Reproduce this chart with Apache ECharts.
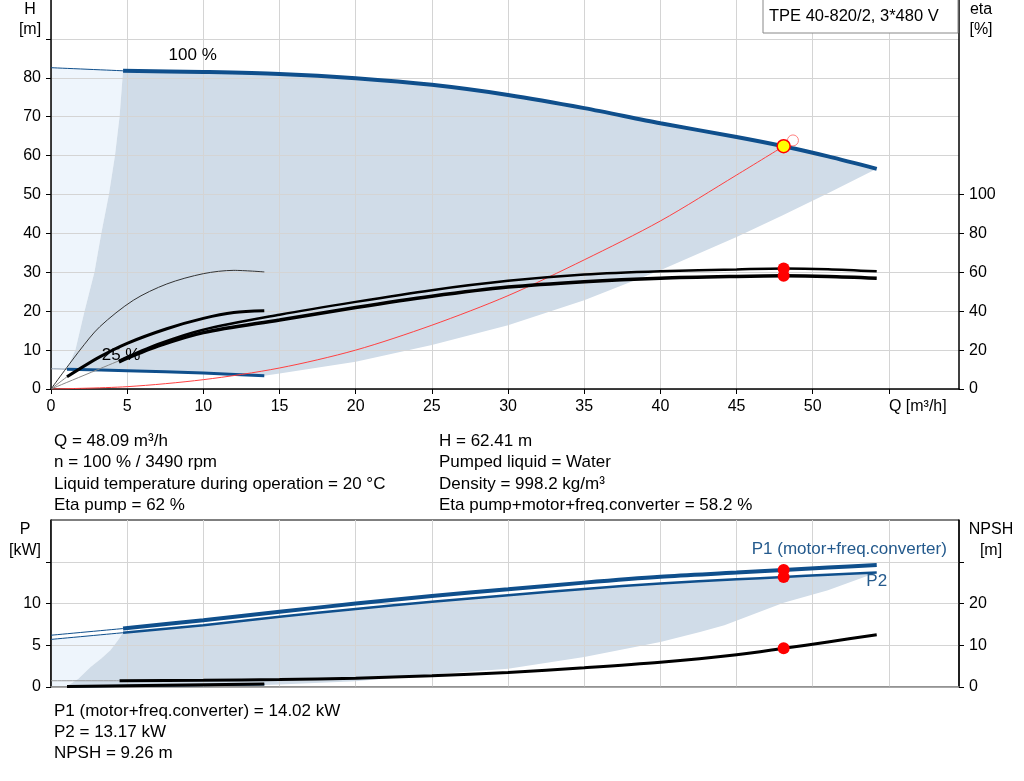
<!DOCTYPE html>
<html>
<head>
<meta charset="utf-8">
<title>TPE 40-820/2 pump curves</title>
<script src="https://cdn.jsdelivr.net/npm/echarts@6.0.0/dist/echarts.min.js"></script>
<style>
html, body { margin: 0; padding: 0; background: #fff; }
#chart { width: 1024px; height: 781px; }
</style>
</head>
<body>
<div id="chart"></div>
<script>
// ---- Q-H (top chart) ----
var qLeadMax = [0, 4.73];
var hLeadMax = [82.6, 81.8];
var qMax = [4.73, 10, 15, 20, 25, 30, 35, 40, 45, 48.09, 51, 54.2];
var hMax = [81.8, 81.5, 81.0, 79.9, 78.2, 75.6, 72.2, 68.3, 64.8, 62.41, 59.8, 56.6];
var qLeadMin = [0, 1.05];
var hLeadMin = [5.2, 5.1];
var qMinSpeed = [1.05, 5, 10, 14];
var hMinSpeed = [5.1, 4.7, 4.1, 3.4];
// edges of the operating area
var qLeftEdge = [4.73, 4.5, 4.2, 3.8, 3.3, 2.85, 2.2, 1.6, 1.05];
var hLeftEdge = [81.8, 70, 60, 50, 40, 30, 20, 10, 5.1];
var qLowEdge = [54.2, 51, 48, 45, 40, 35, 30, 25, 20, 15, 14];
var hLowEdge = [56.6, 50.3, 44.6, 39.1, 30.5, 22.8, 16.4, 11.3, 7.0, 4.0, 3.4];
// system curve (red)
var qSysLine = [0, 5, 10, 15, 20, 25, 30, 35, 40, 45, 48.09];
var hSysLine = [0, 0.6, 2.4, 5.4, 10.0, 16.4, 24.0, 33.2, 43.2, 55.0, 62.41];

// ---- efficiency ----
var qEta = [4.46, 7, 10, 15, 20, 25, 30, 35, 40, 45, 48.09, 51, 54.2];
var etaPump = [14.5, 23, 30.5, 38.2, 44.8, 50.8, 55.6, 58.9, 60.6, 61.5, 62.0, 61.6, 60.5];
var etaTotal = [14, 22, 29, 35.5, 41.9, 47.7, 52.4, 55.2, 57.0, 57.9, 58.2, 57.9, 57.0];
var qEtaPumpMin = [0, 1.9, 3.2, 5.4, 7.6, 10, 12, 14];
var etaPumpMin = [0, 20, 32, 45.6, 54, 59.3, 61, 60.2];
var qEtaTotalMin = [1.05, 3.2, 5, 7.6, 10, 12, 14];
var etaTotalMin = [6.3, 16.5, 23.5, 31, 36.3, 39.3, 40.2];

// ---- power / NPSH (bottom chart) ----
var qLeadP = [0, 4.73];
var p1Lead = [6.2, 7.0];
var p2Lead = [5.7, 6.5];
var qP = [4.73, 10, 15, 20, 25, 30, 35, 40, 45, 48.09, 51, 54.2];
var p1 = [7.0, 8.0, 9.0, 10.0, 10.9, 11.7, 12.5, 13.2, 13.7, 14.02, 14.3, 14.6];
var p2 = [6.5, 7.4, 8.4, 9.35, 10.2, 11.0, 11.75, 12.4, 12.9, 13.17, 13.45, 13.7];
var qNpshLead = [0, 4.5];
var npshLead = [1.5, 1.5];
var qNpsh = [4.5, 10, 15, 20, 25, 30, 35, 40, 45, 48.09, 51, 54.2];
var npsh = [1.5, 1.6, 1.8, 2.1, 2.7, 3.5, 4.6, 5.9, 7.7, 9.26, 10.8, 12.5];
var qLow = [1.05, 14];
var pLow = [0.05, 0.3];
var npshLow = [0.1, 0.7];
var qPLowEdge = [54.2, 51, 48.09, 44.2, 42.6, 40, 35, 30, 25, 20, 15, 14];
var pLowEdge = [13.7, 11.6, 10.1, 7.4, 6.6, 5.4, 3.6, 2.2, 1.5, 0.7, 0.3, 0.25];
var qPLeftEdge = [4.73, 4.4, 3.9, 3.3, 2.6, 1.8, 1.05];
var pLeftEdge = [6.5, 5.6, 4.4, 3.4, 2.4, 1.0, 0.1];
var qPCorner = [0];
var pCorner = [0.1];

// duty point
var dutyQ = 48.09, dutyH = 62.41, dutyEtaPump = 62, dutyEtaTotal = 58.2;
var dutyP1 = 14.02, dutyP2 = 13.17, dutyNpsh = 9.26;
var reqQ = 48.7, reqH = 63.9;

// ticks
var xTicks = [0, 5, 10, 15, 20, 25, 30, 35, 40, 45, 50, 55];
var hTicks = [0, 10, 20, 30, 40, 50, 60, 70, 80, 90];
var hLabels = [0, 10, 20, 30, 40, 50, 60, 70, 80];
var etaTicks = [0, 20, 40, 60, 80, 100];
var pTicks = [0, 5, 10, 15];
var pLabels = [0, 5, 10];
var npshTicks = [0, 10, 20, 30];
var npshLabels = [0, 10, 20];

var FONT = '"Liberation Sans", Arial, sans-serif';
var BLUE = '#0f4f8c';
var DARK_AREA = '#d0dce8';
var LIGHT_AREA = '#eef5fc';

function zip(a, b) {
    return a.map(function (v, i) { return [v, b[i]]; });
}

function polygon(xi, yi, pts, color) {
    return {
        type: 'custom', xAxisIndex: xi, yAxisIndex: yi, z: -1, silent: true,
        data: [[0, 0]],
        renderItem: function (params, api) {
            return {
                type: 'polygon',
                shape: { points: pts.map(function (p) { return api.coord(p); }) },
                style: { fill: color }
            };
        }
    };
}

function line(xi, yi, q, v, color, width) {
    return {
        type: 'line', xAxisIndex: xi, yAxisIndex: yi, data: zip(q, v),
        showSymbol: false, symbol: 'none', smooth: 0.3,
        lineStyle: { color: color, width: width }, silent: true
    };
}

function dot(xi, yi, q, v, size, style, z) {
    style.opacity = 1;
    return {
        type: 'scatter', xAxisIndex: xi, yAxisIndex: yi, data: [[q, v]],
        symbolSize: size, itemStyle: style, z: z || 5, silent: true
    };
}

function tag(xi, yi, q, v, text, color) {
    return {
        type: 'scatter', xAxisIndex: xi, yAxisIndex: yi, data: [[q, v]],
        symbolSize: 1, itemStyle: { color: 'transparent', opacity: 1 }, silent: true, z: 7,
        label: { show: true, position: 'inside', formatter: text, color: color, opacity: 1,
                 fontSize: 17, fontFamily: FONT, textBorderWidth: 0 }
    };
}

var topDark = zip(qMax, hMax)
    .concat(zip(qLowEdge, hLowEdge))
    .concat(zip(qMinSpeed, hMinSpeed).reverse())
    .concat(zip(qLeftEdge, hLeftEdge).reverse());
var topLight = zip(qLeadMax, hLeadMax)
    .concat(zip(qLeftEdge, hLeftEdge))
    .concat(zip(qLeadMin, hLeadMin).reverse());
var botDark = zip(qP, p2)
    .concat(zip(qPLowEdge, pLowEdge))
    .concat(zip(qLow, pLow).reverse())
    .concat(zip(qPLeftEdge, pLeftEdge).reverse());
var botLight = zip(qLeadP, p2Lead)
    .concat(zip(qPLeftEdge, pLeftEdge))
    .concat(zip(qPCorner, pCorner));

function xAxis(gi, labels) {
    return {
        type: 'value', gridIndex: gi, min: 0, max: 59.6, interval: 5,
        axisLine: { lineStyle: { color: labels ? '#000' : '#999', width: 1.5 } },
        axisTick: { show: labels, length: 5, customValues: xTicks, lineStyle: { color: '#000' } },
        axisLabel: {
            show: labels, customValues: xTicks, color: '#000', fontSize: 16, margin: 10,
            fontFamily: FONT, alignMaxLabel: 'left',
            formatter: function (v) { return v === 55 ? 'Q [m³/h]' : String(v); }
        },
        splitLine: { show: true, lineStyle: { color: '#d4d4d4', width: 1 } }
    };
}

function yAxis(gi, pos, max, interval, ticks, labels, split) {
    return {
        type: 'value', gridIndex: gi, position: pos, min: 0, max: max, interval: interval,
        axisLine: { show: true, lineStyle: { color: '#000', width: 1.5 } },
        axisTick: { show: true, length: 5, customValues: ticks, lineStyle: { color: '#000' } },
        axisLabel: { customValues: labels, color: '#000', fontSize: 16, margin: 10, fontFamily: FONT },
        splitLine: { show: split, lineStyle: { color: '#d4d4d4', width: 1 } }
    };
}

var chart = echarts.init(document.getElementById('chart'), null, { renderer: 'canvas' });
chart.setOption({
    animation: false,
    backgroundColor: '#fff',
    textStyle: { fontFamily: FONT },
    grid: [
        { left: 51, right: 65, top: 0, height: 389 },
        { left: 51, right: 65, top: 520, height: 167, show: true, borderColor: '#000', borderWidth: 1 }
    ],
    xAxis: [xAxis(0, true), xAxis(1, false)],
    yAxis: [
        yAxis(0, 'left', 100, 10, hTicks, hLabels, true),
        yAxis(0, 'right', 200, 20, etaTicks, etaTicks, false),
        yAxis(1, 'left', 20, 5, pTicks, pLabels, true),
        yAxis(1, 'right', 40, 10, npshTicks, npshLabels, false)
    ],
    series: [
        polygon(0, 0, topLight, LIGHT_AREA),
        polygon(0, 0, topDark, DARK_AREA),
        polygon(1, 2, botLight, LIGHT_AREA),
        polygon(1, 2, botDark, DARK_AREA),

        // top: Q-H
        line(0, 0, qLeadMax, hLeadMax, BLUE, 1),
        line(0, 0, qMax, hMax, BLUE, 4),
        line(0, 0, qLeadMin, hLeadMin, '#8a9bb0', 1),
        line(0, 0, qMinSpeed, hMinSpeed, BLUE, 3),
        line(0, 0, qSysLine, hSysLine, '#ff4040', 1),

        // top: efficiency (right axis)
        line(0, 1, [0, qEta[0]], [0, etaPump[0]], '#888', 1),
        line(0, 1, [0, qEtaTotalMin[0]], [0, etaTotalMin[0]], '#888', 1),
        line(0, 1, qEtaPumpMin, etaPumpMin, '#333', 1),
        line(0, 1, qEtaTotalMin, etaTotalMin, '#000', 3),
        line(0, 1, qEta, etaPump, '#000', 2.5),
        line(0, 1, qEta, etaTotal, '#000', 3.5),

        dot(0, 0, reqQ, reqH, 11, { color: 'rgba(255,255,255,0)', borderColor: '#ff8080', borderWidth: 1 }, 4),
        dot(0, 0, dutyQ, dutyH, 13, { color: '#ffff00', borderColor: '#ff0000', borderWidth: 1.5 }, 6),
        dot(0, 1, dutyQ, dutyEtaPump, 12, { color: '#ff0000' }),
        dot(0, 1, dutyQ, dutyEtaTotal, 12, { color: '#ff0000' }),

        tag(0, 0, 9.3, 85.9, '100 %', '#000'),
        tag(0, 0, 4.6, 8.7, '25 %', '#000'),

        // bottom: power and NPSH
        line(1, 2, qLeadP, p1Lead, BLUE, 1),
        line(1, 2, qLeadP, p2Lead, BLUE, 1),
        line(1, 2, qP, p1, BLUE, 4),
        line(1, 2, qP, p2, BLUE, 2.5),
        line(1, 2, qLow, pLow, BLUE, 2),
        line(1, 3, qNpshLead, npshLead, '#999', 1),
        line(1, 3, qNpsh, npsh, '#000', 3),
        line(1, 3, qLow, npshLow, '#000', 3),

        dot(1, 2, dutyQ, dutyP1, 12, { color: '#ff0000' }),
        dot(1, 2, dutyQ, dutyP2, 12, { color: '#ff0000' }),
        dot(1, 3, dutyQ, dutyNpsh, 12, { color: '#ff0000' }),

        tag(1, 2, 52.4, 16.5, 'P1 (motor+freq.converter)', '#245a8d'),
        tag(1, 2, 54.2, 12.6, 'P2', '#245a8d')
    ],
    graphic: [
        { type: 'rect', x: 763, y: -1, z: 10, shape: { width: 195, height: 34 },
          style: { fill: '#fff', stroke: '#888', lineWidth: 1 } },
        { type: 'text', x: 769, y: 16, z: 11,
          style: { text: 'TPE 40-820/2, 3*480 V', fontSize: 16.5, fontFamily: FONT, fill: '#000', verticalAlign: 'middle' } },
        { type: 'text', x: 30, y: 0, z: 11,
          style: { text: 'H\n[m]', fontSize: 16, fontFamily: FONT, fill: '#000', lineHeight: 20, align: 'center', verticalAlign: 'top' } },
        { type: 'text', x: 981, y: 0, z: 11,
          style: { text: 'eta\n[%]', fontSize: 16, fontFamily: FONT, fill: '#000', lineHeight: 20, align: 'center', verticalAlign: 'top' } },
        { type: 'text', x: 25, y: 519, z: 11,
          style: { text: 'P\n[kW]', fontSize: 16, fontFamily: FONT, fill: '#000', lineHeight: 21, align: 'center', verticalAlign: 'top' } },
        { type: 'text', x: 991, y: 519, z: 11,
          style: { text: 'NPSH\n[m]', fontSize: 16, fontFamily: FONT, fill: '#000', lineHeight: 21, align: 'center', verticalAlign: 'top' } },
        { type: 'text', x: 54, y: 430.5, z: 11,
          style: { text: 'Q = 48.09 m³/h\nn = 100 % / 3490 rpm\nLiquid temperature during operation = 20 °C\nEta pump = 62 %',
                   fontSize: 17, fontFamily: FONT, fill: '#000', lineHeight: 21.33, verticalAlign: 'top' } },
        { type: 'text', x: 439, y: 430.5, z: 11,
          style: { text: 'H = 62.41 m\nPumped liquid = Water\nDensity = 998.2 kg/m³\nEta pump+motor+freq.converter = 58.2 %',
                   fontSize: 17, fontFamily: FONT, fill: '#000', lineHeight: 21.33, verticalAlign: 'top' } },
        { type: 'text', x: 54, y: 700.5, z: 11,
          style: { text: 'P1 (motor+freq.converter) = 14.02 kW\nP2 = 13.17 kW\nNPSH = 9.26 m',
                   fontSize: 17, fontFamily: FONT, fill: '#000', lineHeight: 21, verticalAlign: 'top' } }
    ]
});
</script>
</body>
</html>
